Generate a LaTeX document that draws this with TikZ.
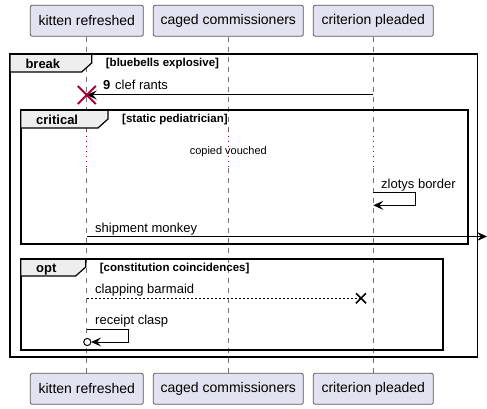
\documentclass[tikz,border=0pt]{standalone}
\usepackage{fontspec}
\setmainfont{Liberation Sans}
\usetikzlibrary{arrows.meta,calc}
\definecolor{partfill}{HTML}{E2E2F0}
\definecolor{tabfill}{HTML}{EEEEEE}
\definecolor{umlred}{HTML}{A80036}
\tikzset{
  party/.style={draw=black!65,line width=0.8pt,fill=partfill,rounded corners=2pt,
    minimum height=31pt,inner sep=0pt,font=\fontsize{14}{16}\selectfont},
  life/.style={draw=black!55,line width=0.7pt,dash pattern=on 5pt off 5pt},
  delayline/.style={draw=umlred,line width=0.9pt,dash pattern=on 1pt off 4pt},
  frm/.style={line width=1.8pt},
  msgtext/.style={anchor=base west,inner sep=0pt,font=\fontsize{13}{15}\selectfont},
  sync/.style={line width=1pt,-{Stealth[length=10pt,width=9pt,inset=4pt]}},
}
\begin{document}
\begin{tikzpicture}[x=1pt,y=-1pt]
\useasboundingbox (0,0) rectangle (487,409);
% participants and lifelines
\foreach \n/\x/\w/\t in {k/86.8/113/kitten refreshed,c/228.3/150/caged commissioners,p/373.3/120/criterion pleaded}{
  \node[party,minimum width=\w pt] (\n-top) at (\x,20.7) {\t};
  \node[party,minimum width=\w pt] (\n-bot) at (\x,388.8) {\t};
  \draw[life] (\n-top.south) -- (\x,131);
  \draw[delayline] (\x,131) -- (\x,168);
  \draw[life] (\x,168) -- (\n-bot.north);
}
% frames
\foreach \l/\t/\r/\b/\tr/\tb/\kind/\guard in {10/54.3/477.5/356.7/91.7/72/break/bluebells explosive,
    20.7/110/467.7/244.3/108/128/critical/static pediatrician,
    20.7/259/443.3/349.7/85.7/276/opt/constitution coincidences}{
  \draw[frm] (\l,\t) rectangle (\r,\b);
  \draw[line width=1.2pt,fill=tabfill] (\l,\t) -- (\tr,\t) -- (\tr,\tb-9) -- (\tr-10,\tb) -- (\l,\tb) -- cycle;
  \draw[frm] (\l,\t) -- (\tr,\t);
  \node[anchor=base west,inner sep=0pt,font=\bfseries\fontsize{13}{15}\selectfont] at (\l+15.3,\tb-3.8) {\kind};
  \node[anchor=base west,inner sep=0pt,font=\bfseries\fontsize{11.5}{13}\selectfont] at (\tr+14,\tb-5) {[\guard]};
}
% message end points
\coordinate (k1) at (86.8,95);    \coordinate (p1) at (373.3,95);
\coordinate (p2) at (373.3,192.3); \coordinate (p3) at (373.3,205.3);
\coordinate (k4) at (86.8,236.5); \coordinate (edge4) at (487,236.5);
\coordinate (k5) at (86.8,298.3); \coordinate (lost5) at (361,298.3);
\coordinate (k6) at (86.8,329.3); \coordinate (k7) at (87.3,342);
% clef rants
\draw[sync] (p1) -- (k1);
\draw[umlred,line width=2pt] (k1) ++(-9,-9) -- ++(18,18) (k1) ++(-9,9) -- ++(18,-18);
\node[msgtext,font=\bfseries\fontsize{13}{15}\selectfont] at (103,90) {9};
\node[msgtext] at (115,90) {clef rants};
% delay
\node[anchor=base,inner sep=0pt,font=\fontsize{11}{13}\selectfont] (delay) at (228.3,154) {copied vouched};
% zlotys border
\draw[sync] (p2) -- ++(42.4,0) -- ++(0,13) -- (p3);
\node[msgtext] at (381,188) {zlotys border};
% shipment monkey
\draw[sync] (k4) -- (edge4);
\node[msgtext] at (95,232) {shipment monkey};
% clapping barmaid
\draw[line width=1pt,dash pattern=on 2pt off 2pt] (k5) -- (lost5);
\draw[line width=1.6pt] (lost5) ++(-5,-5) -- ++(10,10) (lost5) ++(-5,5) -- ++(10,-10);
\node[msgtext] at (95,293.3) {clapping barmaid};
% receipt clasp
\draw[sync] (k6) -- ++(41.5,0) -- ++(0,12.7) -- ($(k7)+(3.8,0)$);
\draw[line width=1pt,fill=white] (k7) circle (3.6pt);
\node[msgtext] at (95,324) {receipt clasp};
\end{tikzpicture}
\end{document}
